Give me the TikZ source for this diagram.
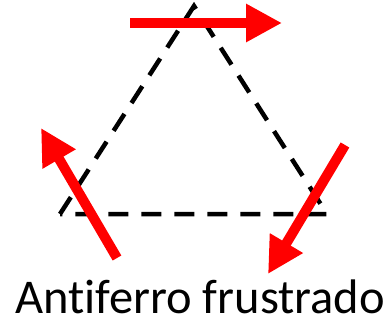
\documentclass[tikz,border=0pt]{standalone}
\usepackage{fontspec}
\setmainfont[Ligatures=NoCommon]{Carlito}
\usetikzlibrary{arrows.meta}
\begin{document}
\begin{tikzpicture}[x=1pt,y=-1pt,
  tri/.style={line width=4.5pt,dash pattern=on 20pt off 13pt,black},
  spin/.style={line width=10pt,red,-{Triangle[length=36pt,width=36pt]}}]
\useasboundingbox (0,0) rectangle (387,323);
\coordinate (T) at (194,6);
\coordinate (L) at (60,214);
\coordinate (R) at (327,214);
\draw[tri] (L) -- (T) -- (R) -- cycle;
\coordinate (a1) at (130,23);
\coordinate (a2) at (282,23);
\coordinate (b1) at (117,258);
\coordinate (b2) at (41,128);
\coordinate (c1) at (345,145);
\coordinate (c2) at (268,274);
\draw[spin] (a1) -- (a2);
\draw[spin] (b1) -- (b2);
\draw[spin] (c1) -- (c2);
\node[font=\fontsize{48.5}{52}\selectfont,anchor=base,inner sep=0pt,text depth=0pt] (lbl) at (200,313) {Antiferro frustrado};
\end{tikzpicture}
\end{document}
